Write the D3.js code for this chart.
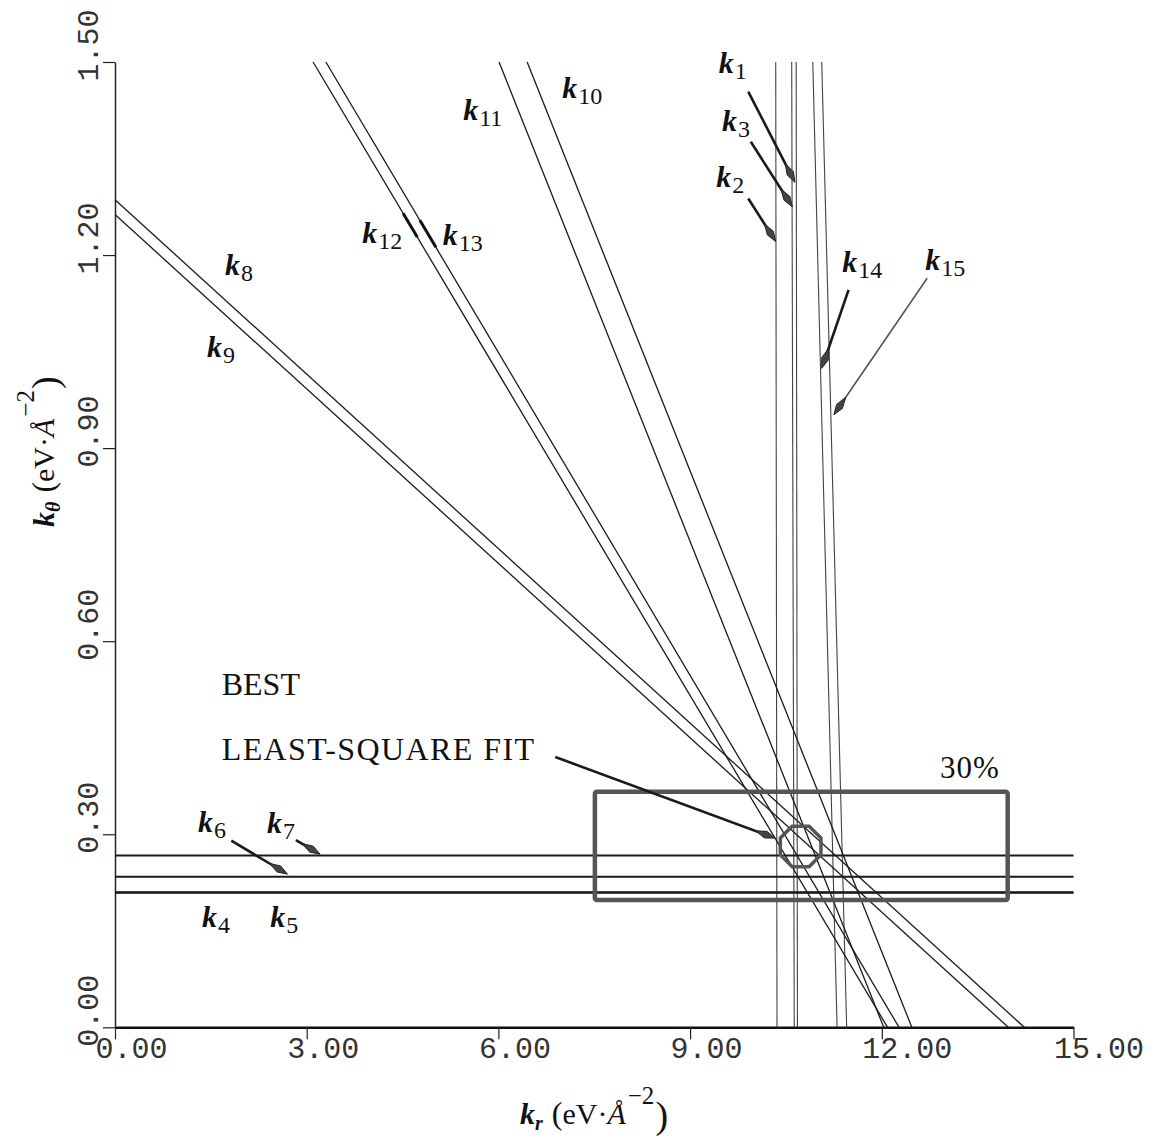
<!DOCTYPE html>
<html>
<head>
<meta charset="utf-8">
<script src="https://cdn.jsdelivr.net/npm/d3@7"></script>
<style>
body { margin: 0; background: #fff; }
svg { display: block; }
</style>
</head>
<body>
<svg id="chart" width="1157" height="1144"></svg>
<script>
// axis ticks
const xTicks = [0, 3, 6, 9, 12, 15];
const yTicks = [0, 0.3, 0.6, 0.9, 1.2, 1.5];

// almost vertical constraints : kr at the top (ktheta = 1.5) and at the bottom (ktheta = 0)
const verticalNames = ["k2", "k3", "k1", "k14", "k15"];
const verticalTopKr = [10.34, 10.59, 10.66, 10.92, 11.06];
const verticalBottomKr = [10.36, 10.63, 10.68, 11.30, 11.45];

// horizontal constraints (ktheta value)
const horizontalNames = ["k7", "k6", "k4", "k5"];
const horizontalKt = [0.267, 0.234, 0.209, 0.210];

// sloped constraints : start point [kr, ktheta] and the kr where they reach ktheta = 0
const diagonalNames = ["k8", "k9", "k12", "k13", "k11", "k10"];
const diagonalStart = [[0, 1.286], [0, 1.263], [3.10, 1.5], [3.30, 1.5], [6.01, 1.5], [6.45, 1.5]];
const diagonalEndKr = [14.23, 13.98, 12.09, 12.27, 12.03, 12.47];

// best fit and the 30% box around it
const bestFit = [10.73, 0.281];
const boxKr = [7.51, 13.97];
const boxKt = [0.198, 0.366];

// label anchors (data coords) for the k names
const labelNames = ["1", "3", "2", "14", "15", "10", "11", "12", "13", "8", "9", "6", "7", "4", "5"];
const labelAnchors = [[9.45, 1.483], [9.50, 1.393], [9.41, 1.306], [11.38, 1.174], [12.68, 1.177],
    [7.00, 1.444], [5.45, 1.410], [3.87, 1.219], [5.13, 1.216], [1.72, 1.169], [1.44, 1.042],
    [1.30, 0.304], [2.38, 0.302], [1.36, 0.156], [2.43, 0.156]];

// pointer arrows (k1, k3, k2, k14, k15, k6, k7, fit)
const arrowFrom = [[9.91, 1.454], [9.95, 1.376], [9.91, 1.288], [11.48, 1.146], [12.71, 1.164], [1.82, 0.290], [2.83, 0.291], [6.89, 0.420]];
const arrowTo = [[10.64, 1.313], [10.60, 1.275], [10.34, 1.221], [11.06, 1.024], [11.25, 0.952], [2.70, 0.238], [3.21, 0.269], [10.33, 0.294]];

let svg = d3.select("#chart");

let x = d3.scaleLinear().domain([0, 15]).range([115, 1073.5]);
let y = d3.scaleLinear().domain([0, 1.5]).range([1027.3, 62]);

let lineGen = d3.line().x(d => x(d[0])).y(d => y(d[1]));

const tickFont = "'Liberation Mono', 'DejaVu Sans Mono', monospace";
const serif = "'Liberation Serif', 'DejaVu Serif', serif";

// x axis
svg.append("g")
    .attr("transform", "translate(0," + y(0) + ")")
    .call(d3.axisBottom(x).tickValues(xTicks).tickSize(12).tickSizeOuter(0).tickFormat(d3.format(".2f")))
    .call(g => g.select(".domain").attr("stroke", "#111").attr("stroke-width", 2.5))
    .call(g => g.selectAll(".tick line").attr("stroke", "#222").attr("stroke-width", 1.2))
    .call(g => g.selectAll(".tick text")
        .attr("text-anchor", "start")
        .attr("x", -20)
        .attr("y", 31)
        .attr("dy", 0)
        .attr("font-family", tickFont)
        .attr("font-size", 30)
        .attr("fill", "#333"));

// y axis, labels turned
svg.append("g")
    .attr("transform", "translate(" + x(0) + ",0)")
    .call(d3.axisLeft(y).tickValues(yTicks).tickSize(12).tickSizeOuter(0).tickFormat(d3.format(".2f")))
    .call(g => g.select(".domain").attr("stroke", "#222").attr("stroke-width", 1.5))
    .call(g => g.selectAll(".tick line").attr("stroke", "#222").attr("stroke-width", 1.2))
    .call(g => g.selectAll(".tick text")
        .attr("transform", "rotate(-90)")
        .attr("text-anchor", "start")
        .attr("x", -19)
        .attr("y", -17)
        .attr("dy", 0)
        .attr("font-family", tickFont)
        .attr("font-size", 30)
        .attr("fill", "#333"));

let lines = svg.append("g").attr("fill", "none");

verticalNames.forEach(function (name, i) {
    lines.append("path")
        .attr("class", "line")
        .attr("ancestor", name)
        .attr("d", lineGen([[verticalTopKr[i], 1.5], [verticalBottomKr[i], 0]]))
        .attr("stroke", "#444")
        .attr("stroke-width", 1.1);
});

horizontalNames.forEach(function (name, i) {
    lines.append("path")
        .attr("class", "line")
        .attr("ancestor", name)
        .attr("d", lineGen([[0, horizontalKt[i]], [15, horizontalKt[i]]]))
        .attr("stroke", "#1a1a1a")
        .attr("stroke-width", 2);
});

diagonalNames.forEach(function (name, i) {
    lines.append("path")
        .attr("class", "line")
        .attr("ancestor", name)
        .attr("d", lineGen([diagonalStart[i], [diagonalEndKr[i], 0]]))
        .attr("stroke", "#1a1a1a")
        .attr("stroke-width", 1.3);
});

// bolder bits on k12 / k13 next to their names
function pointOn(i, kt) {
    let s = diagonalStart[i];
    return [s[0] + (diagonalEndKr[i] - s[0]) * (s[1] - kt) / s[1], kt];
}
[[2, 1.265, 1.228], [3, 1.254, 1.212]].forEach(function (b) {
    lines.append("path")
        .attr("d", lineGen([pointOn(b[0], b[1]), pointOn(b[0], b[2])]))
        .attr("stroke", "#111")
        .attr("stroke-width", 3);
});

// 30% box
svg.append("rect")
    .attr("x", x(boxKr[0]))
    .attr("y", y(boxKt[1]))
    .attr("width", x(boxKr[1]) - x(boxKr[0]))
    .attr("height", y(boxKt[0]) - y(boxKt[1]))
    .attr("rx", 2)
    .attr("fill", "none")
    .attr("stroke", "#555")
    .attr("stroke-width", 4.5);

// best fit marker, drawn as a plotter octagon
let octagon = d3.range(8).map(function (j) {
    let a = Math.PI / 8 + j * Math.PI / 4;
    return [x(bestFit[0]) + 22 * Math.cos(a), y(bestFit[1]) + 22 * Math.sin(a)];
});
svg.append("polygon")
    .attr("points", octagon.map(p => p.join(",")).join(" "))
    .attr("fill", "none")
    .attr("stroke", "#555")
    .attr("stroke-width", 3.5);

// arrows
let arrows = svg.append("g");
arrowFrom.forEach(function (from, i) {
    let x1 = x(from[0]), y1 = y(from[1]), x2 = x(arrowTo[i][0]), y2 = y(arrowTo[i][1]);
    let a = Math.atan2(y2 - y1, x2 - x1);
    let c = Math.cos(a), s = Math.sin(a);
    let head = [[0, 0], [-10, 3.5], [-21, 0], [-10, -3.5]].map(function (p) {
        return [x2 + p[0] * c - p[1] * s, y2 + p[0] * s + p[1] * c];
    });
    arrows.append("line")
        .attr("x1", x1).attr("y1", y1)
        .attr("x2", x2 - 12 * c).attr("y2", y2 - 12 * s)
        .attr("stroke", i === 4 ? "#555" : "#1a1a1a")
        .attr("stroke-width", i === 4 ? 1.6 : 2.6);
    arrows.append("polygon")
        .attr("points", head.map(p => p.join(",")).join(" "))
        .attr("fill", "#444")
        .attr("stroke", "#222")
        .attr("stroke-width", 1);
});

// k labels
labelNames.forEach(function (n, i) {
    let t = svg.append("text")
        .attr("x", x(labelAnchors[i][0]))
        .attr("y", y(labelAnchors[i][1]))
        .attr("font-family", serif)
        .attr("fill", "#111");
    t.append("tspan").attr("font-size", 30).attr("font-weight", "bold").attr("font-style", "italic").text("k");
    t.append("tspan").attr("font-size", 24).attr("dx", 1).attr("dy", 6).text(n);
});

// notes
svg.append("text")
    .attr("x", x(1.67)).attr("y", y(0.516))
    .attr("font-family", serif).attr("font-size", 32).attr("fill", "#111")
    .text("BEST");
svg.append("text")
    .attr("x", x(1.67)).attr("y", y(0.415))
    .attr("font-family", serif).attr("font-size", 32).attr("letter-spacing", 1.4).attr("fill", "#111")
    .text("LEAST-SQUARE FIT");
svg.append("text")
    .attr("x", x(12.91)).attr("y", y(0.387))
    .attr("font-family", serif).attr("font-size", 31).attr("letter-spacing", 1).attr("fill", "#111")
    .text("30%");

// axis titles
function axisTitle(g, sub) {
    let t = g.append("text").attr("font-family", serif).attr("fill", "#111");
    t.append("tspan").attr("font-size", 30).attr("font-weight", "bold").attr("font-style", "italic").text("k");
    t.append("tspan").attr("font-size", 20).attr("font-weight", "bold").attr("font-style", "italic").attr("dy", 6).text(sub);
    t.append("tspan").attr("font-size", 32).attr("dy", -6).attr("dx", 9).text("(");
    t.append("tspan").attr("font-size", 30).text("eV·");
    t.append("tspan").attr("font-size", 30).attr("font-style", "italic").text("Å");
    t.append("tspan").attr("font-size", 25).attr("dy", -20).attr("dx", 2).text("−2");
    t.append("tspan").attr("font-size", 38).attr("dy", 24).attr("dx", 1).text(")");
}
axisTitle(svg.append("g").attr("transform", "translate(520,1124)"), "r");
axisTitle(svg.append("g").attr("transform", "translate(54,527) rotate(-90)"), "θ");
</script>
</body>
</html>
